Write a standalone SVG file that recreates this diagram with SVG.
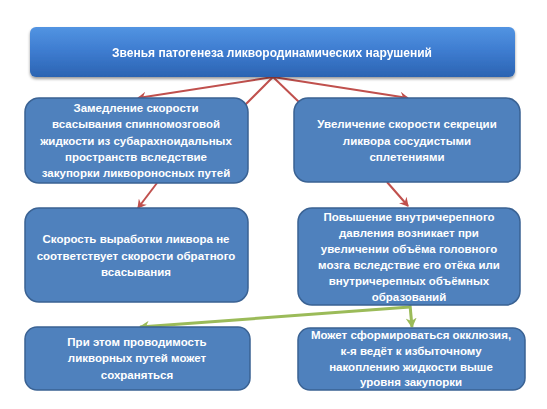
<svg xmlns="http://www.w3.org/2000/svg" width="547" height="409" viewBox="0 0 547 409">
<style>
.box{fill:#4f81bd;stroke:#3a6293;stroke-width:1.5}
.t{font-family:"Liberation Sans",Arial,sans-serif;font-weight:bold;font-size:11.5px;fill:#fff;text-anchor:middle}
.red{stroke:#c0504d;stroke-width:2;fill:none}
.grn{stroke:#9bbb59;stroke-width:3;fill:none}
</style>
<defs>
<linearGradient id="tg" x1="0" y1="0" x2="0" y2="1">
<stop offset="0" stop-color="#5294e2"/>
<stop offset="0.5" stop-color="#3d7bcf"/>
<stop offset="1" stop-color="#2b64b2"/>
</linearGradient>
<filter id="sh" x="-5%" y="-10%" width="110%" height="130%">
<feGaussianBlur in="SourceAlpha" stdDeviation="1.5"/>
<feOffset dx="0" dy="2" result="b"/>
<feComponentTransfer><feFuncA type="linear" slope="0.4"/></feComponentTransfer>
<feMerge><feMergeNode/><feMergeNode in="SourceGraphic"/></feMerge>
</filter>
<marker id="ar" markerWidth="10" markerHeight="10" refX="8" refY="5" orient="auto" markerUnits="userSpaceOnUse">
<path d="M0,0 L9,5 L0,10 L3,5 Z" fill="#c0504d"/>
</marker>
<marker id="ag" markerWidth="11" markerHeight="11" refX="9" refY="5.5" orient="auto" markerUnits="userSpaceOnUse">
<path d="M0,0 L10,5.5 L0,11 L3,5.5 Z" fill="#9bbb59"/>
</marker>
</defs>
<g id="connectors">
<line class="red" x1="273" y1="77" x2="138" y2="98" marker-end="url(#ar)"/>
<line class="red" x1="273" y1="77" x2="408" y2="98" marker-end="url(#ar)"/>
<line class="red" x1="273" y1="77" x2="244" y2="106"/>
<line class="red" x1="273" y1="77" x2="300" y2="103"/>
<line class="red" x1="157" y1="183" x2="138" y2="208" marker-end="url(#ar)"/>
<line class="red" x1="387" y1="182" x2="408" y2="206" marker-end="url(#ar)"/>
<line class="grn" x1="410" y1="307" x2="140" y2="327" marker-end="url(#ag)"/>
<line class="grn" x1="410" y1="305" x2="412" y2="327" marker-end="url(#ag)"/>
</g>
<g id="top" filter="url(#sh)">
<rect x="30" y="27" width="485" height="50" rx="6" fill="url(#tg)"/>
<text class="t" x="272" y="57" style="font-size:12px">Звенья патогенеза ликвородинамических нарушений</text>
</g>
<g id="n1">
<rect class="box" x="25" y="98" width="223" height="85" rx="14"/>
<text class="t" x="136" y="112">Замедление скорости</text>
<text class="t" x="136" y="128">всасывания  спинномозговой</text>
<text class="t" x="136" y="145">жидкости из субарахноидальных</text>
<text class="t" x="136" y="161">пространств вследствие</text>
<text class="t" x="136" y="177">закупорки ликвороносных путей</text>
</g>
<g id="n2">
<rect class="box" x="294" y="98" width="226" height="84" rx="14"/>
<text class="t" x="407" y="128">Увеличение скорости секреции</text>
<text class="t" x="407" y="145">ликвора сосудистыми</text>
<text class="t" x="407" y="161">сплетениями</text>
</g>
<g id="n3">
<rect class="box" x="25" y="208" width="223" height="94" rx="14"/>
<text class="t" x="136" y="243">Скорость выработки ликвора не</text>
<text class="t" x="136" y="260">соответствует скорости обратного</text>
<text class="t" x="136" y="276">всасывания</text>
</g>
<g id="n4">
<rect class="box" x="298" y="208" width="222" height="97" rx="14"/>
<text class="t" x="409" y="221">Повышение внутричерепного</text>
<text class="t" x="409" y="237">давления возникает при</text>
<text class="t" x="409" y="253">увеличении объёма головного</text>
<text class="t" x="409" y="269">мозга вследствие его отёка или</text>
<text class="t" x="409" y="285">внутричерепных объёмных</text>
<text class="t" x="409" y="301">образований</text>
</g>
<g id="n5">
<rect class="box" x="25" y="327" width="225" height="63" rx="12"/>
<text class="t" x="137" y="346">При этом проводимость</text>
<text class="t" x="137" y="362">ликворных путей может</text>
<text class="t" x="137" y="379">сохраняться</text>
</g>
<g id="n6">
<rect class="box" x="298" y="328" width="227" height="62" rx="12"/>
<text class="t" x="411" y="339">Может сформироваться окклюзия,</text>
<text class="t" x="411" y="355">к-я ведёт к избыточному</text>
<text class="t" x="411" y="371">накоплению жидкости выше</text>
<text class="t" x="411" y="386">уровня закупорки</text>
</g>
</svg>
